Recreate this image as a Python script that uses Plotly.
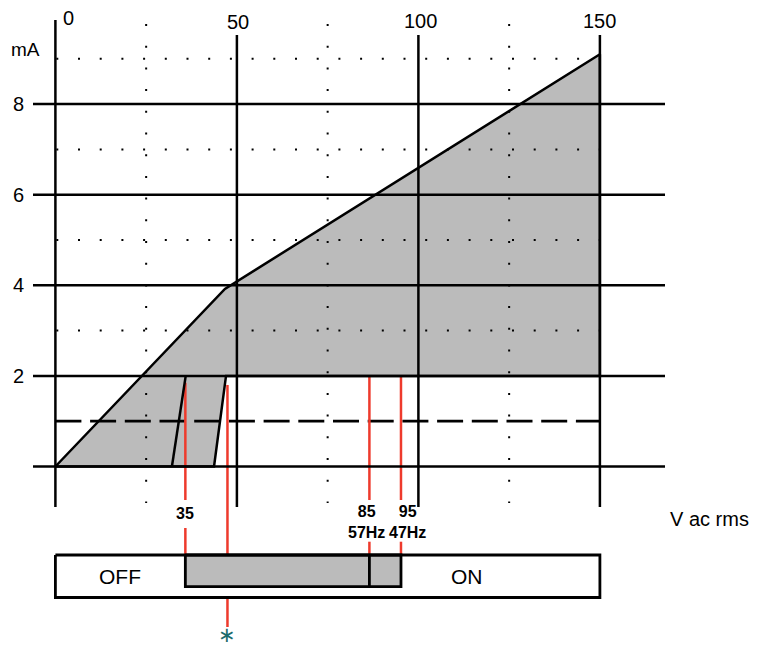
import plotly.graph_objects as go

# ---------------- data ----------------
x_major = [0, 50, 100, 150]
x_major_labels = ["0", "50", "100", "150"]
x_minor = [25, 75, 125]
y_major = [0, 2, 4, 6, 8]
y_major_labels = ["", "2", "4", "6", "8"]
y_minor = [3, 5, 7, 9]
y_dashed = 1

# operating envelope (V ac rms, mA)
env_x = [0, 46.7, 150, 150, 47.0, 43.7, 0]
env_y = [0, 3.92, 9.1, 2, 2, 0, 0]
inner_x = [35.9, 32.1]
inner_y = [2, 0]

# threshold voltages (red markers)
red_x = [35.8, 47.4, 86.5, 95.2]
red_labels = ["35", "", "85<br>57Hz", "95<br>47Hz"]

# OFF / ON band
band_start, band_div, band_end = 35.8, 86.5, 95.2
band_x = [0, 150]
off_label, on_label = "OFF", "ON"

# ---------------- pixel <-> data mapping (page pixels) ----------------
X0, SX = 55.4, 3.63      # page pixel = X0 + SX*x
Y0, SY = 466.5, 45.3     # page pixel = Y0 - SY*y
PAGE_W, PAGE_H = 760, 649
BODY = 8                 # default body margin of the html page
W, H = PAGE_W - BODY, PAGE_H - BODY


def dx(px):
    return (px - X0) / SX


def dy(py):
    return (Y0 - py) / SY


FONT = "Liberation Sans, Arial, Helvetica, sans-serif"
RED = "#ee3a2c"
GRAY = "#bbbbbb"
BLACK = "#000000"

fig = go.Figure()


def seg(xs, ys, color=BLACK, width=2.5, dash="solid"):
    fig.add_trace(go.Scatter(x=xs, y=ys, mode="lines", hoverinfo="skip", showlegend=False,
                             line=dict(color=color, width=width, dash=dash)))


# gray envelope fill
fig.add_trace(go.Scatter(x=env_x, y=env_y, mode="lines", fill="toself",
                         fillcolor=GRAY, line=dict(width=0), hoverinfo="skip",
                         showlegend=False))

# bar band fill
b_top, b_bot, g_bot = dy(555), dy(597.5), dy(586.7)
fig.add_trace(go.Scatter(x=[band_start, band_end, band_end, band_start, band_start],
                         y=[b_top, b_top, g_bot, g_bot, b_top], mode="lines",
                         fill="toself", fillcolor=GRAY, line=dict(width=0),
                         hoverinfo="skip", showlegend=False))

# dotted grid
for yv in y_minor:
    seg([dx(56.3), 150], [yv, yv], width=2, dash="2px,19.7px")
for xv in x_minor:
    seg([xv, xv], [dy(24), dy(503)], width=2, dash="2px,19.7px")

# dashed line
seg([0, 150], [y_dashed, y_dashed], width=2.7, dash="26px,8.7px")

# red markers
red_tops = [1.85, 1.8, 2.0, 2.0]
red_low_start = [dy(528), None, dy(541.7), dy(541.7)]
for i, xv in enumerate(red_x):
    if i == 1:
        seg([xv, xv], [red_tops[i], b_top], color=RED, width=2.5)
        seg([xv, xv], [dy(599), dy(627)], color=RED, width=2.5)
    else:
        seg([xv, xv], [red_tops[i], dy(500)], color=RED, width=2.5)
        seg([xv, xv], [red_low_start[i], b_top], color=RED, width=2.5)

# solid grid
for yv in y_major:
    seg([dx(33), dx(665)], [yv, yv], width=2.5)
for xv in x_major:
    top = dy(20) if xv == 0 else dy(35)
    seg([xv, xv], [top, dy(507)], width=2.5)

# envelope outline
seg(env_x, env_y, width=2.5)
seg(inner_x, inner_y, width=2.5)

# bar outlines
seg([band_x[0], band_x[1], band_x[1], band_x[0], band_x[0]],
    [b_top, b_top, b_bot, b_bot, b_top], width=2.8)
seg([band_start, band_end, band_end, band_start, band_start],
    [b_top, b_top, g_bot, g_bot, b_top], width=2.8)
seg([band_div, band_div], [b_top, g_bot], width=2.8)

# ---------------- text ----------------
ann = []


def txt(x, y, s, size, bold=False, color=BLACK, family=FONT, yanchor="middle"):
    ann.append(dict(x=x, y=y, xref="x", yref="y", text=("<b>%s</b>" % s) if bold else s,
                    showarrow=False, xanchor="center", yanchor=yanchor,
                    font=dict(family=family, size=size, color=color)))


tick_px = [(68.3, 17.6), (238, 21.5), (420, 21), (599.5, 21)]
for lab, (px, py) in zip(x_major_labels, tick_px):
    txt(dx(px), dy(py), lab, 20)
for yv, lab in zip(y_major, y_major_labels):
    if lab:
        txt(dx(18), yv, lab, 20)
txt(dx(25), dy(49), "mA", 19)
txt(dx(709), dy(519), "V ac rms", 20)

txt(dx(185.3), dy(513), red_labels[0], 16, bold=True)
txt(dx(366), dy(522), red_labels[2], 16, bold=True)
txt(dx(407), dy(522), red_labels[3], 16, bold=True)

txt(dx(120), dy(576), off_label, 21)
txt(dx(467), dy(576), on_label, 21)
txt(red_x[1], dy(649), "∗", 21, color="#1b6a6b", family="DejaVu Sans", yanchor="bottom")

fig.update_layout(
    width=W, height=H, margin=dict(l=0, r=0, t=0, b=0),
    paper_bgcolor="white", plot_bgcolor="white", showlegend=False,
    xaxis=dict(visible=False, range=[dx(BODY), dx(PAGE_W)], fixedrange=True),
    yaxis=dict(visible=False, range=[dy(PAGE_H), dy(BODY)], fixedrange=True),
    annotations=ann,
)

fig.write_html("out.html")
